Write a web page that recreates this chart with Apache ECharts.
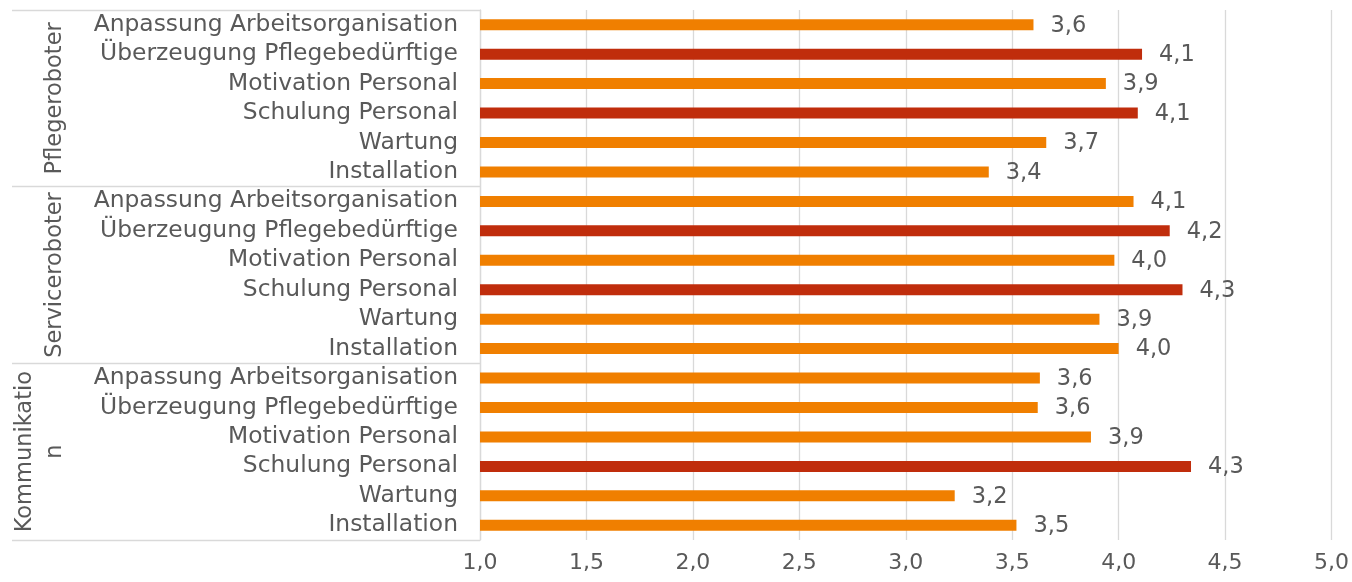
<!DOCTYPE html>
<html>
<head>
<meta charset="utf-8">
<script src="https://cdn.jsdelivr.net/npm/echarts@6/dist/echarts.min.js"></script>
<style>
  html, body { margin: 0; padding: 0; background: #ffffff; }
  #chart { width: 1352px; height: 582px; }
</style>
</head>
<body>
<div id="chart"></div>
<script>
// Measures asked about in each robot group (top to bottom within a group)
const items = [
  'Anpassung Arbeitsorganisation',
  'Überzeugung Pflegebedürftige',
  'Motivation Personal',
  'Schulung Personal',
  'Wartung',
  'Installation'
];

// Robot groups, as printed in the group column
const groups = ['Pflegeroboter', 'Serviceroboter', 'Kommunikatio\nn'];

// Mean ratings per group, in the order of `items`
const pflegeValues  = [3.60, 4.11, 3.94, 4.09, 3.66, 3.39];
const serviceValues = [4.07, 4.24, 3.98, 4.30, 3.91, 4.00];
const kommValues    = [3.63, 3.62, 3.87, 4.34, 3.23, 3.52];

// Items shown in the darker accent colour, per group (indices into `items`)
const accented = [[1, 3], [1, 3], [3]];

// Value axis ticks
const axisMin = 1.0;
const axisMax = 5.0;
const axisStep = 0.5;

const FONT = 'DejaVu Sans';
const TEXT = '#595959';
const RULE = '#d9d9d9';
const ORANGE = '#f07f00';
const RED = '#c02d0c';

const groupValues = [pflegeValues, serviceValues, kommValues];
const rows = [];
const bars = [];
groupValues.forEach((vals, g) => {
  vals.forEach((v, i) => {
    rows.push(items[i]);
    bars.push({
      value: v,
      itemStyle: { color: accented[g].includes(i) ? RED : ORANGE }
    });
  });
});

const fmt = v => v.toFixed(1).replace('.', ',');

const chart = echarts.init(document.getElementById('chart'), null, { renderer: 'canvas' });
chart.setOption({
  animation: false,
  backgroundColor: '#ffffff',
  textStyle: { fontFamily: FONT },
  grid: { left: 480, right: 20, top: 10, bottom: 42, containLabel: false },
  xAxis: {
    type: 'value',
    min: axisMin,
    max: axisMax,
    interval: axisStep,
    axisLine: { show: false },
    axisTick: { show: false },
    splitLine: { show: true, lineStyle: { color: RULE, width: 1.3 } },
    axisLabel: {
      formatter: fmt,
      color: TEXT,
      fontFamily: FONT,
      fontSize: 22,
      margin: 12
    }
  },
  yAxis: [
    {
      type: 'category',
      data: rows,
      inverse: true,
      position: 'left',
      axisLine: { show: true, lineStyle: { color: RULE, width: 1.3 } },
      axisTick: { show: false },
      axisLabel: {
        interval: 0,
        color: TEXT,
        fontFamily: FONT,
        fontSize: 23.4,
        margin: 22,
        padding: [3, 0, 0, 0]
      }
    },
    {
      type: 'category',
      data: groups,
      inverse: true,
      position: 'left',
      offset: 0,
      axisLine: { show: false },
      axisTick: {
        show: true,
        interval: 0,
        length: 468,
        lineStyle: { color: RULE, width: 1.3 }
      },
      axisLabel: {
        interval: 0,
        rotate: 90,
        color: TEXT,
        fontFamily: FONT,
        fontSize: 22.5,
        lineHeight: 30,
        margin: 410,
        align: 'center',
        verticalAlign: 'bottom'
      }
    }
  ],
  series: [{
    type: 'bar',
    yAxisIndex: 0,
    data: bars,
    barWidth: 11,
    label: {
      show: true,
      position: 'right',
      distance: 17,
      offset: [0, 1],
      formatter: p => fmt(p.value),
      color: TEXT,
      fontFamily: FONT,
      fontSize: 22.5
    }
  }]
});
</script>
</body>
</html>
